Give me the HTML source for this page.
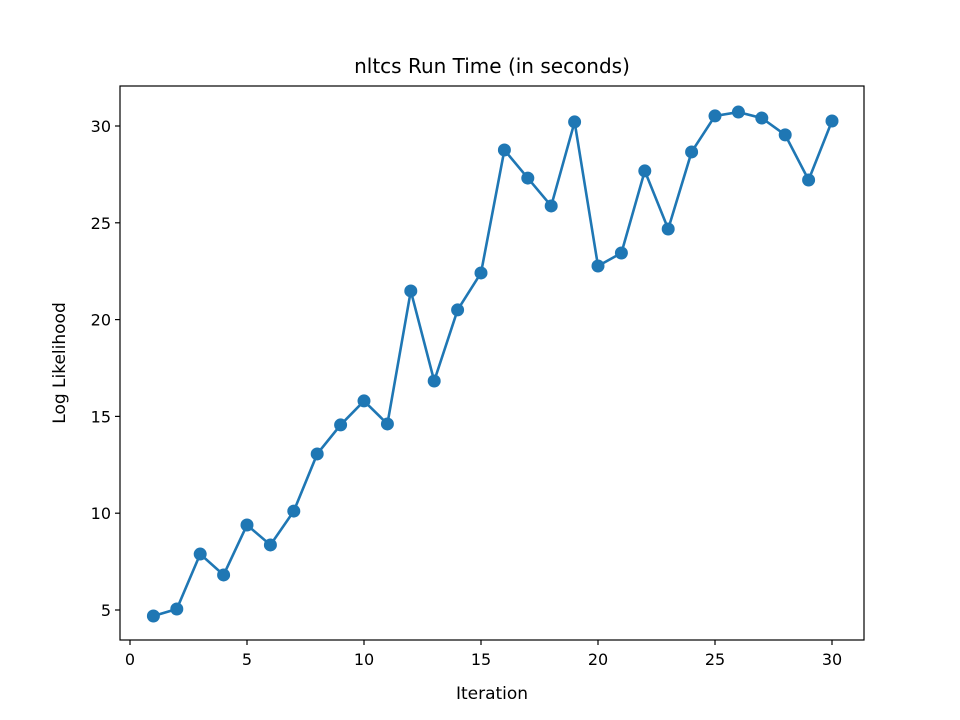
<!DOCTYPE html>
<html><head><meta charset="utf-8"><style>body{margin:0;background:#fff}svg{display:block;font-family:"DejaVu Sans","Liberation Sans",sans-serif}</style></head>
<body>
<svg id="chart" width="960" height="720" viewBox="0 0 960 720">
<rect width="960" height="720" fill="#fff"/>
<text x="492" y="73" font-size="20" text-anchor="middle" fill="#000">nltcs Run Time (in seconds)</text>
<g id="plot"></g>
<rect x="120" y="86" width="744" height="554" fill="none" stroke="#000" stroke-width="1.2"/>
<text x="492" y="699" font-size="17" text-anchor="middle">Iteration</text>
<text transform="translate(65,363) rotate(-90)" font-size="17" text-anchor="middle">Log Likelihood</text>
</svg>
<script>
const iterations=[1,2,3,4,5,6,7,8,9,10,11,12,13,14,15,16,17,18,19,20,21,22,23,24,25,26,27,28,29,30];
const values=[4.69,5.05,7.89,6.81,9.39,8.36,10.11,13.06,14.56,15.80,14.61,21.48,16.83,20.50,22.41,28.76,27.31,25.87,30.21,22.77,23.44,27.68,24.68,28.66,30.52,30.72,30.41,29.54,27.21,30.26];
const xTicks=[0,5,10,15,20,25,30];
const yTicks=[5,10,15,20,25,30];
const ns="http://www.w3.org/2000/svg";
const g=document.getElementById('plot');
const xs=v=>130+v*23.4;
const ys=v=>126+(30-v)*19.36;
function mk(t,a){const e=document.createElementNS(ns,t);for(const k in a)e.setAttribute(k,a[k]);g.appendChild(e);return e;}
xTicks.forEach(t=>{
 const l=mk('line',{x1:xs(t),x2:xs(t),y1:640,y2:645,stroke:'#000','stroke-width':1.2});
 
 
 const tx=mk('text',{x:xs(t),y:665,'font-size':16,'text-anchor':'middle'});tx.textContent=t;
 
 
});
yTicks.forEach(t=>{
 const l=mk('line',{x1:115,x2:120,y1:ys(t),y2:ys(t),stroke:'#000','stroke-width':1.2});
 
 
 const tx=mk('text',{x:111,y:ys(t)+6,'font-size':16,'text-anchor':'end'});tx.textContent=t;
 
 
});
const p=mk('polyline',{points:iterations.map((x,i)=>xs(x)+','+ys(values[i])).join(' '),fill:'none',stroke:'#1f77b4','stroke-width':2.6});


iterations.forEach((x,i)=>{
 const c=mk('circle',{cx:xs(x),cy:ys(values[i]),r:6.5,fill:'#1f77b4'});
 
 
});
</script>
</body></html>
